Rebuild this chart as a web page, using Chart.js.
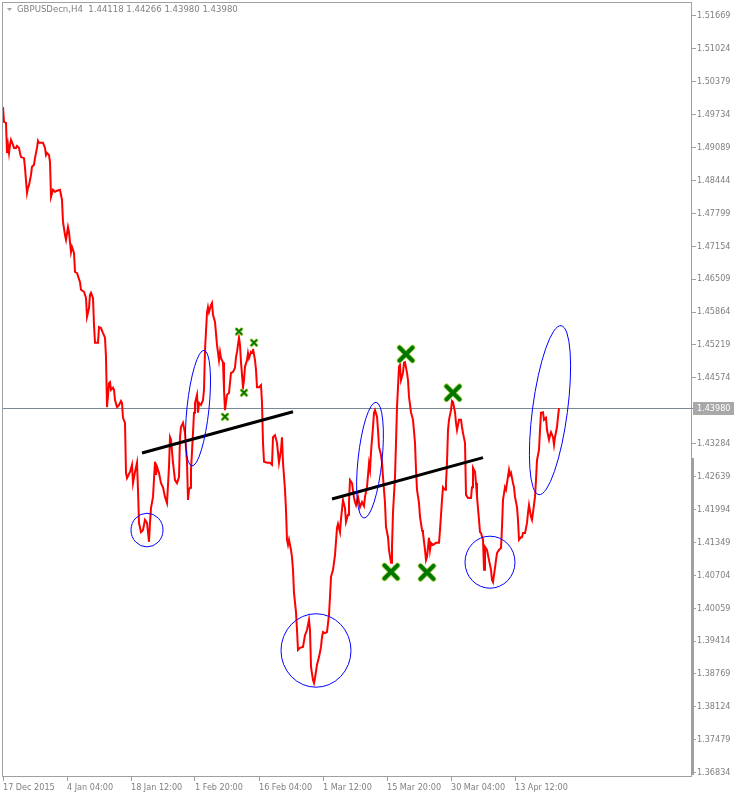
<!DOCTYPE html>
<html>
<head>
<meta charset="utf-8">
<title>GBPUSDecn,H4</title>
<script src="https://cdn.jsdelivr.net/npm/chart.js@4.4.1/dist/chart.umd.min.js"></script>
<style>
  html, body { margin: 0; padding: 0; background: #ffffff; }
  #wrap { width: 734px; height: 798px; }
</style>
</head>
<body>
<div id="wrap"><canvas id="grafica" width="734" height="798"></canvas></div>
<script>
const symbolTitle = 'GBPUSDecn,H4  1.44118 1.44266 1.43980 1.43980';
const lastPrice = 1.43980;

// numero de barra H4 y precio de cierre
const barIndex = [
  0, 1, 3, 4, 5, 6, 7, 8, 10, 11, 13, 14, 16, 17, 18, 21, 22, 24, 25, 26,
  28, 29, 31, 32, 34, 35, 36, 40, 42, 43, 44, 46, 47, 48, 50, 52, 54, 57, 59, 60,
  62, 63, 65, 66, 68, 69, 71, 72, 74, 77, 78, 81, 83, 84, 86, 87, 88, 90, 91, 92,
  95, 96, 98, 100, 102, 103, 104, 106, 107, 108, 110, 111, 112, 114, 116, 118, 119, 120, 122, 123,
  124, 127, 129, 130, 132, 134, 135, 136, 138, 140, 142, 144, 146, 147, 148, 150, 152, 153, 154, 156,
  158, 160, 162, 164, 166, 167, 168, 170, 172, 174, 176, 177, 178, 180, 182, 184, 185, 186, 187, 188,
  190, 191, 192, 194, 195, 196, 198, 200, 201, 202, 204, 205, 206, 208, 209, 210, 212, 214, 216, 217,
  218, 220, 221, 222, 224, 226, 228, 230, 232, 233, 234, 236, 237, 238, 240, 241, 242, 244, 245, 246,
  248, 249, 250, 252, 253, 254, 256, 258, 259, 260, 261, 264, 267, 269, 270, 272, 274, 276, 278, 279,
  280, 282, 283, 284, 285, 286, 288, 289, 290, 291, 293, 294, 295, 297, 300, 302, 304, 306, 307, 308,
  310, 311, 312, 314, 316, 318, 319, 320, 322, 324, 326, 327, 328, 330, 332, 334, 335, 337, 338, 340,
  342, 343, 345, 346, 347, 349, 351, 352, 353, 355, 357, 359, 361, 362, 364, 366, 367, 368, 370, 371,
  372, 374, 375, 376, 378, 379, 380, 382, 383, 385, 386, 388, 389, 390, 392, 393, 394, 396, 397, 398,
  400, 401, 402, 404, 405, 406, 408, 410, 412, 413, 414, 416, 417, 419, 420, 422, 423, 424, 426, 427,
  428, 430, 433, 436, 437, 439, 440, 442, 443, 444, 445, 446, 448, 449, 450, 452, 453, 454, 456, 458,
  459, 460, 462, 463, 465, 468, 469, 470, 472, 473, 474, 476, 477, 478, 480, 481, 482, 484, 486, 488,
  489, 490, 492, 493, 494, 496, 498, 499, 500, 502, 503, 504, 506, 507, 508, 510, 511, 512, 514, 515,
  516, 518, 519, 520, 522, 524, 525, 526, 528, 529, 530, 532, 533, 534, 536, 537, 538, 540, 541, 543,
  544, 546, 547, 548, 550, 551, 552, 554, 555, 556
];
const closePrice = [
  1.4988, 1.4959, 1.4957, 1.4898, 1.4914, 1.4898, 1.4914, 1.4924, 1.4914, 1.4908, 1.4908, 1.4912, 1.4908, 1.4898, 1.4890, 1.4888, 1.4869, 1.4820, 1.4830, 1.4835,
  1.4855, 1.4871, 1.4875, 1.4888, 1.4908, 1.4922, 1.4918, 1.4918, 1.4908, 1.4894, 1.4898, 1.4894, 1.4880, 1.4812, 1.4826, 1.4822, 1.4824, 1.4826, 1.4806, 1.4763,
  1.4737, 1.4728, 1.4753, 1.4743, 1.4704, 1.4714, 1.4702, 1.4665, 1.4663, 1.4645, 1.4630, 1.4626, 1.4614, 1.4577, 1.4594, 1.4620, 1.4624, 1.4614, 1.4561, 1.4526,
  1.4526, 1.4557, 1.4555, 1.4545, 1.4536, 1.4498, 1.4400, 1.4447, 1.4449, 1.4434, 1.4438, 1.4434, 1.4414, 1.4400, 1.4404, 1.4412, 1.4408, 1.4379, 1.4369, 1.4271,
  1.4261, 1.4273, 1.4287, 1.4251, 1.4273, 1.4291, 1.4238, 1.4173, 1.4155, 1.4159, 1.4179, 1.4173, 1.4136, 1.4173, 1.4202, 1.4224, 1.4293, 1.4267, 1.4283, 1.4271,
  1.4251, 1.4243, 1.4224, 1.4212, 1.4283, 1.4341, 1.4336, 1.4291, 1.4257, 1.4251, 1.4263, 1.4341, 1.4361, 1.4369, 1.4349, 1.4291, 1.4218, 1.4238, 1.4242, 1.4277,
  1.4349, 1.4389, 1.4408, 1.4424, 1.4389, 1.4408, 1.4404, 1.4414, 1.4434, 1.4512, 1.4585, 1.4596, 1.4586, 1.4600, 1.4604, 1.4581, 1.4567, 1.4522, 1.4492, 1.4508,
  1.4496, 1.4488, 1.4434, 1.4394, 1.4424, 1.4428, 1.4467, 1.4469, 1.4477, 1.4498, 1.4508, 1.4536, 1.4522, 1.4488, 1.4439, 1.4453, 1.4479, 1.4492, 1.4506, 1.4496,
  1.4508, 1.4506, 1.4514, 1.4492, 1.4473, 1.4439, 1.4439, 1.4443, 1.4408, 1.4330, 1.4293, 1.4291, 1.4291, 1.4287, 1.4341, 1.4345, 1.4330, 1.4291, 1.4316, 1.4341,
  1.4291, 1.4238, 1.4198, 1.4140, 1.4130, 1.4140, 1.4120, 1.4106, 1.4081, 1.4036, 1.3998, 1.3963, 1.3924, 1.3928, 1.3930, 1.3953, 1.3963, 1.3983, 1.3963, 1.3891,
  1.3865, 1.3859, 1.3869, 1.3895, 1.3910, 1.3930, 1.3949, 1.3959, 1.3957, 1.3959, 1.3993, 1.4028, 1.4067, 1.4081, 1.4110, 1.4163, 1.4171, 1.4155, 1.4181, 1.4218,
  1.4202, 1.4175, 1.4189, 1.4214, 1.4257, 1.4251, 1.4222, 1.4214, 1.4208, 1.4224, 1.4204, 1.4214, 1.4206, 1.4224, 1.4243, 1.4289, 1.4277, 1.4312, 1.4361, 1.4389,
  1.4394, 1.4381, 1.4355, 1.4322, 1.4306, 1.4291, 1.4263, 1.4212, 1.4165, 1.4145, 1.4120, 1.4095, 1.4126, 1.4194, 1.4263, 1.4330, 1.4400, 1.4479, 1.4483, 1.4453,
  1.4467, 1.4487, 1.4488, 1.4467, 1.4453, 1.4420, 1.4390, 1.4375, 1.4330, 1.4277, 1.4238, 1.4212, 1.4185, 1.4159, 1.4153, 1.4120, 1.4100, 1.4106, 1.4144, 1.4120,
  1.4134, 1.4130, 1.4134, 1.4134, 1.4159, 1.4218, 1.4243, 1.4238, 1.4251, 1.4291, 1.4355, 1.4375, 1.4394, 1.4412, 1.4410, 1.4390, 1.4369, 1.4355, 1.4375, 1.4375,
  1.4361, 1.4349, 1.4330, 1.4228, 1.4222, 1.4222, 1.4243, 1.4281, 1.4273, 1.4251, 1.4224, 1.4179, 1.4155, 1.4153, 1.4140, 1.4081, 1.4126, 1.4120, 1.4100, 1.4081,
  1.4061, 1.4057, 1.4085, 1.4100, 1.4114, 1.4120, 1.4124, 1.4165, 1.4218, 1.4243, 1.4238, 1.4251, 1.4277, 1.4267, 1.4271, 1.4251, 1.4243, 1.4224, 1.4204, 1.4179,
  1.4140, 1.4145, 1.4145, 1.4153, 1.4153, 1.4173, 1.4193, 1.4208, 1.4185, 1.4179, 1.4193, 1.4224, 1.4257, 1.4296, 1.4316, 1.4355, 1.4389, 1.4390, 1.4375, 1.4379,
  1.4355, 1.4336, 1.4345, 1.4351, 1.4341, 1.4326, 1.4341, 1.4361, 1.4381, 1.4398
];

const xTickBars = [0, 64, 128, 192, 256, 320, 384, 448, 512];
const xTickLabels = ['17 Dec 2015', '4 Jan 04:00', '18 Jan 12:00', '1 Feb 20:00', '16 Feb 04:00',
                     '1 Mar 12:00', '15 Mar 20:00', '30 Mar 04:00', '13 Apr 12:00'];
const yTickValues = [1.51669, 1.51024, 1.50379, 1.49734, 1.49089, 1.48444, 1.47799, 1.47154,
                     1.46509, 1.45864, 1.45219, 1.44574, 1.43284, 1.42639, 1.41994, 1.41349,
                     1.40704, 1.40059, 1.39414, 1.38769, 1.38124, 1.37479, 1.36834];

// objetos dibujados sobre la grafica (barra, precio)
const ellipses = [
  { bar: 144, price: 1.4159, halfBars: 16, halfPrice: 0.0033, tilt: 0 },
  { bar: 195, price: 1.4398, halfBars: 11, halfPrice: 0.0114, tilt: 6 },
  { bar: 313, price: 1.3923, halfBars: 35, halfPrice: 0.0072, tilt: 0 },
  { bar: 367, price: 1.4296, halfBars: 12, halfPrice: 0.0114, tilt: 6 },
  { bar: 487, price: 1.4096, halfBars: 25, halfPrice: 0.0051, tilt: 0 },
  { bar: 547, price: 1.4394, halfBars: 17.5, halfPrice: 0.0167, tilt: 7.5 }
];
const trendLines = [
  { bar0: 139, price0: 1.4310, bar1: 290, price1: 1.4391 },
  { bar0: 329, price0: 1.4220, bar1: 480, price1: 1.4301 }
];
const smallCrosses = [[236, 1.4548], [251, 1.4526], [241, 1.4428], [222, 1.4381]];
const bigCrosses = [[403, 1.4504], [450, 1.4428], [388, 1.4077], [424, 1.4076]];
const shiftBarTop = 1.4300;

const FONT = "'DejaVu Sans Condensed', 'Liberation Sans', sans-serif";
const TEXT_GRAY = '#808080';
const FRAME_GRAY = '#a0a0a0';

function drawCross(ctx, x, y, half, width) {
  ctx.lineCap = 'round';
  [['#b5d35a', width + 1.6], ['#007800', width]].forEach(([color, w]) => {
    ctx.strokeStyle = color;
    ctx.lineWidth = w;
    ctx.beginPath();
    ctx.moveTo(x - half, y - half); ctx.lineTo(x + half, y + half);
    ctx.moveTo(x + half, y - half); ctx.lineTo(x - half, y + half);
    ctx.stroke();
  });
}

const objetosPlugin = {
  id: 'objetos',
  beforeDatasetsDraw(chart) {
    const { ctx, chartArea, scales: { y } } = chart;
    const py = Math.round(y.getPixelForValue(lastPrice)) + 0.5;
    ctx.save();
    ctx.strokeStyle = '#778899';
    ctx.lineWidth = 1;
    ctx.beginPath();
    ctx.moveTo(chartArea.left, py);
    ctx.lineTo(chartArea.right + 2, py);
    ctx.stroke();
    ctx.restore();
  },
  afterDatasetsDraw(chart) {
    const { ctx, chartArea, scales: { x, y } } = chart;
    ctx.save();
    ctx.beginPath();
    ctx.rect(chartArea.left, chartArea.top, chartArea.right - chartArea.left, chartArea.bottom - chartArea.top);
    ctx.clip();

    // lineas de tendencia
    ctx.strokeStyle = '#000000';
    ctx.lineWidth = 3;
    ctx.lineCap = 'butt';
    trendLines.forEach(t => {
      ctx.beginPath();
      ctx.moveTo(x.getPixelForValue(t.bar0), y.getPixelForValue(t.price0));
      ctx.lineTo(x.getPixelForValue(t.bar1), y.getPixelForValue(t.price1));
      ctx.stroke();
    });

    // elipses
    ctx.strokeStyle = '#0000ff';
    ctx.lineWidth = 1;
    ellipses.forEach(e => {
      const cx = x.getPixelForValue(e.bar);
      const cy = y.getPixelForValue(e.price);
      const rx = Math.abs(x.getPixelForValue(e.bar + e.halfBars) - cx);
      const ry = Math.abs(y.getPixelForValue(e.price + e.halfPrice) - cy);
      ctx.beginPath();
      ctx.ellipse(cx, cy, rx, ry, e.tilt * Math.PI / 180, 0, Math.PI * 2);
      ctx.stroke();
    });

    // marcas
    smallCrosses.forEach(([b, p]) => drawCross(ctx, x.getPixelForValue(b), y.getPixelForValue(p), 2.6, 1.8));
    bigCrosses.forEach(([b, p]) => drawCross(ctx, x.getPixelForValue(b), y.getPixelForValue(p), 6.5, 4));
    ctx.restore();
  },
  afterDraw(chart) {
    const { ctx, chartArea, scales: { y } } = chart;
    ctx.save();

    // marco
    ctx.strokeStyle = FRAME_GRAY;
    ctx.lineWidth = 1;
    ctx.strokeRect(chartArea.left + 0.5, chartArea.top + 0.5,
                   chartArea.right - chartArea.left - 1, chartArea.bottom - chartArea.top - 1);

    // barra gris a la derecha
    const barTop = Math.round(y.getPixelForValue(shiftBarTop));
    ctx.fillStyle = FRAME_GRAY;
    ctx.fillRect(chartArea.right - 1, barTop, 3, chartArea.bottom - 2 - barTop);

    // etiqueta del ultimo precio
    const py = Math.round(y.getPixelForValue(lastPrice));
    ctx.fillStyle = '#a8a8a8';
    ctx.fillRect(chartArea.right + 1, py - 6, 734 - chartArea.right - 1, 13);
    ctx.fillStyle = '#ffffff';
    ctx.font = '9px ' + FONT;
    ctx.textBaseline = 'middle';
    ctx.textAlign = 'left';
    ctx.fillText(lastPrice.toFixed(5), chartArea.right + 5, py + 0.5);

    // titulo
    ctx.fillStyle = FRAME_GRAY;
    ctx.beginPath();
    ctx.moveTo(7, 8); ctx.lineTo(12, 8); ctx.lineTo(9.5, 11); ctx.closePath();
    ctx.fill();
    ctx.fillStyle = TEXT_GRAY;
    ctx.font = '9.5px ' + FONT;
    ctx.fillText(symbolTitle, 17, 10);
    ctx.restore();
  }
};

const ctx = document.getElementById('grafica').getContext('2d');
new Chart(ctx, {
  type: 'line',
  data: {
    datasets: [{
      label: 'GBPUSDecn,H4',
      data: barIndex.map((b, i) => ({ x: b, y: closePrice[i] })),
      borderColor: '#ff0000',
      borderWidth: 2,
      pointRadius: 0,
      fill: false,
      tension: 0
    }]
  },
  options: {
    responsive: false,
    animation: false,
    layout: { padding: { left: 2, top: 2, right: 0, bottom: 0 } },
    plugins: { legend: { display: false }, tooltip: { enabled: false } },
    scales: {
      x: {
        type: 'linear',
        position: 'bottom',
        min: -1,
        max: 689,
        afterBuildTicks: s => { s.ticks = xTickBars.map(v => ({ value: v })); },
        afterFit: s => { s.height = 21; s.paddingLeft = 0; s.paddingRight = 0; },
        ticks: {
          autoSkip: false,
          maxRotation: 0,
          align: 'start',
          padding: 1,
          color: TEXT_GRAY,
          font: { family: FONT, size: 9 },
          callback: (v, i) => xTickLabels[i]
        },
        grid: { drawOnChartArea: false, tickLength: 4, color: FRAME_GRAY },
        border: { display: false }
      },
      y: {
        type: 'linear',
        position: 'right',
        min: 1.3675,
        max: 1.5194,
        afterBuildTicks: s => { s.ticks = yTickValues.map(v => ({ value: v })); },
        afterFit: s => { s.width = 42; s.paddingTop = 0; s.paddingBottom = 0; },
        ticks: {
          padding: 1,
          color: TEXT_GRAY,
          font: { family: FONT, size: 9 },
          callback: v => v.toFixed(5)
        },
        grid: { drawOnChartArea: false, tickLength: 4, color: FRAME_GRAY },
        border: { display: false }
      }
    }
  },
  plugins: [objetosPlugin]
});
</script>
</body>
</html>
